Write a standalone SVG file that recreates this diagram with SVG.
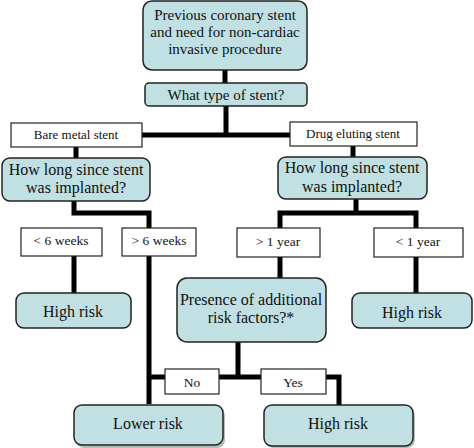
<svg xmlns="http://www.w3.org/2000/svg" width="474" height="448" viewBox="0 0 474 448">
<style>
.n{fill:#c0e0e3;stroke:#222;stroke-width:1.5}
.w{fill:#fff;stroke:#222;stroke-width:1.2}
.c{fill:none;stroke:#000;stroke-width:5;stroke-linejoin:miter}
text{font-family:"Liberation Serif","Times New Roman",serif;fill:#111;text-anchor:middle}
.t17{font-size:16px}
.t16{font-size:15px}
.t14{font-size:13.5px}
.t13{font-size:13px}
</style>
<rect width="474" height="448" fill="#fff"/>
<g id="connectors">
<path class="c" d="M225 70V84M226 106V135M76 135H290M76 147V158M353 146V157"/>
<path class="c" d="M74 201V213H149V404M74 256V293"/>
<path class="c" d="M356 199V213H280V279M356 213H416V293"/>
<path class="c" d="M238 342V377M149 377H339V405"/>
</g>
<g id="start"><rect class="n" x="143" y="1" width="164" height="69" rx="9"/>
<text class="t16" x="225" y="20">Previous coronary stent</text>
<text class="t16" x="225" y="37">and need for non-cardiac</text>
<text class="t16" x="225" y="54">invasive procedure</text></g>
<g id="type"><rect class="n" x="145" y="83" width="162" height="23" rx="4"/>
<text class="t16" x="226" y="100">What type of stent?</text></g>
<g id="bare"><rect class="w" x="11" y="123" width="131" height="24"/>
<text class="t13" x="76" y="139">Bare metal stent</text></g>
<g id="drug"><rect class="w" x="290" y="122" width="127" height="24"/>
<text class="t13" x="353" y="138">Drug eluting stent</text></g>
<g id="howlong1"><rect class="n" x="2" y="158" width="148" height="43" rx="8"/>
<text class="t17" x="76" y="175">How long since stent</text>
<text class="t17" x="76" y="193">was implanted?</text></g>
<g id="howlong2"><rect class="n" x="278" y="157" width="149" height="42" rx="8"/>
<text class="t17" x="352" y="173">How long since stent</text>
<text class="t17" x="352" y="192">was implanted?</text></g>
<g id="lt6w"><rect class="w" x="21" y="228" width="81" height="28"/>
<text class="t14" x="61" y="245">&lt; 6 weeks</text></g>
<g id="gt6w"><rect class="w" x="122" y="228" width="74" height="28"/>
<text class="t14" x="159" y="245">&gt; 6 weeks</text></g>
<g id="gt1y"><rect class="w" x="237" y="228" width="83" height="29"/>
<text class="t14" x="278" y="246">&gt; 1 year</text></g>
<g id="lt1y"><rect class="w" x="374" y="228" width="89" height="29"/>
<text class="t14" x="418" y="246">&lt; 1 year</text></g>
<g id="highrisk1"><rect class="n" x="16" y="293" width="115" height="35" rx="8"/>
<text class="t17" x="73" y="317">High risk</text></g>
<g id="presence"><rect class="n" x="177" y="278" width="149" height="64" rx="10"/>
<text class="t17" x="251" y="305">Presence of additional</text>
<text class="t17" x="251" y="323">risk factors?*</text></g>
<g id="highrisk2"><rect class="n" x="352" y="293" width="120" height="35" rx="8"/>
<text class="t17" x="412" y="318">High risk</text></g>
<g id="no"><rect class="w" x="165" y="369" width="54" height="25"/>
<text class="t14" x="192" y="387">No</text></g>
<g id="yes"><rect class="w" x="261" y="369" width="65" height="25"/>
<text class="t14" x="293" y="387">Yes</text></g>
<g id="lower"><rect x="76" y="408" width="149" height="40" rx="8" fill="#bbb"/>
<rect class="n" x="74" y="405" width="149" height="40" rx="8"/>
<text class="t17" x="148" y="429">Lower risk</text></g>
<g id="highrisk3"><rect x="266" y="408" width="149" height="40" rx="8" fill="#bbb"/>
<rect class="n" x="264" y="405" width="149" height="41" rx="8"/>
<text class="t17" x="338" y="429">High risk</text></g>
</svg>
